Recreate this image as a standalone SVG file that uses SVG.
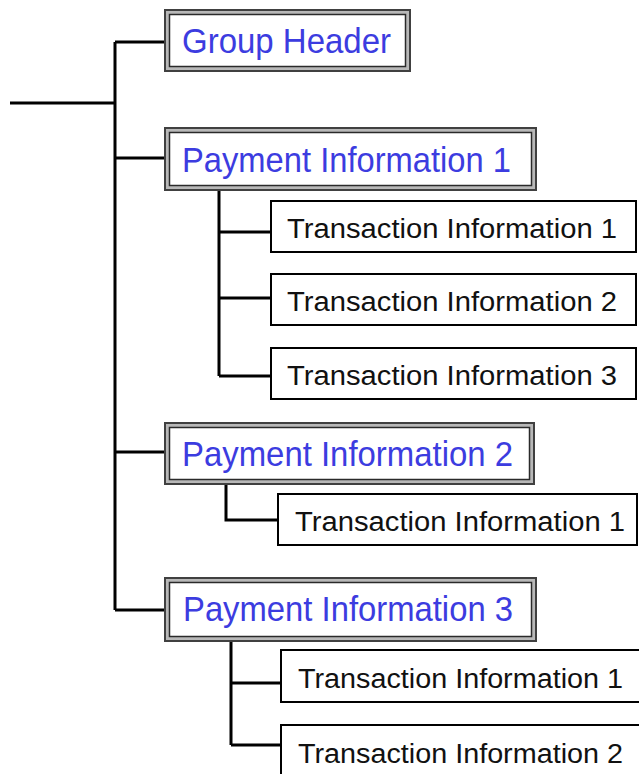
<svg xmlns="http://www.w3.org/2000/svg" width="639" height="774" viewBox="0 0 639 774">
<style>
.conn{stroke:#000;stroke-width:3;fill:none;stroke-linejoin:miter}
.frame{fill:#b8b8b8;stroke:#404040;stroke-width:2}
.inner{fill:#fff;stroke:#2a2a2a;stroke-width:1.5}
.tbox{fill:#fff;stroke:#000;stroke-width:2}
.ptext{font-family:"Liberation Sans",Arial,sans-serif;font-size:35px;fill:#3c3ce0}
.ttext{font-family:"Liberation Sans",Arial,sans-serif;font-size:27px;fill:#111}
</style>
<rect width="639" height="774" fill="#fff"/>
<g id="connectors">
<path class="conn" d="M10 103H115M115 42V610M115 42H165M115 158H165M115 452H165M115 610H165"/>
<path class="conn" d="M219 190V376M219 232H271M219 298H271M219 376H271"/>
<path class="conn" d="M226 484V520H278"/>
<path class="conn" d="M231 641V745M231 683H281M231 745H281"/>
</g>
<g id="group-header">
<rect class="frame" x="165" y="10" width="245" height="61"/>
<rect class="inner" x="169.5" y="14.5" width="236" height="52"/>
<text class="ptext" x="182" y="53" textLength="209" lengthAdjust="spacingAndGlyphs">Group Header</text>
</g>
<g id="payment-1">
<rect class="frame" x="165" y="128" width="371" height="62"/>
<rect class="inner" x="169.5" y="132.5" width="362" height="53"/>
<text class="ptext" x="182" y="172" textLength="329" lengthAdjust="spacingAndGlyphs">Payment Information 1</text>
</g>
<g id="p1-tx1">
<rect class="tbox" x="271" y="201" width="365" height="51"/>
<text class="ttext" x="287" y="238" textLength="330" lengthAdjust="spacingAndGlyphs">Transaction Information 1</text>
</g>
<g id="p1-tx2">
<rect class="tbox" x="271" y="274" width="365" height="51"/>
<text class="ttext" x="287" y="311" textLength="330" lengthAdjust="spacingAndGlyphs">Transaction Information 2</text>
</g>
<g id="p1-tx3">
<rect class="tbox" x="271" y="348" width="365" height="51"/>
<text class="ttext" x="287" y="385" textLength="330" lengthAdjust="spacingAndGlyphs">Transaction Information 3</text>
</g>
<g id="payment-2">
<rect class="frame" x="165" y="423" width="369" height="61"/>
<rect class="inner" x="169.5" y="427.5" width="360" height="52"/>
<text class="ptext" x="182" y="466" textLength="331" lengthAdjust="spacingAndGlyphs">Payment Information 2</text>
</g>
<g id="p2-tx1">
<rect class="tbox" x="278" y="494" width="359" height="51"/>
<text class="ttext" x="295" y="531" textLength="330" lengthAdjust="spacingAndGlyphs">Transaction Information 1</text>
</g>
<g id="payment-3">
<rect class="frame" x="165" y="578" width="371" height="63"/>
<rect class="inner" x="169.5" y="582.5" width="362" height="54"/>
<text class="ptext" x="183" y="621" textLength="330" lengthAdjust="spacingAndGlyphs">Payment Information 3</text>
</g>
<g id="p3-tx1">
<rect class="tbox" x="281" y="650" width="370" height="52"/>
<text class="ttext" x="298" y="688" textLength="325" lengthAdjust="spacingAndGlyphs">Transaction Information 1</text>
</g>
<g id="p3-tx2">
<rect class="tbox" x="281" y="725" width="370" height="60"/>
<text class="ttext" x="298" y="763" textLength="325" lengthAdjust="spacingAndGlyphs">Transaction Information 2</text>
</g>
</svg>
